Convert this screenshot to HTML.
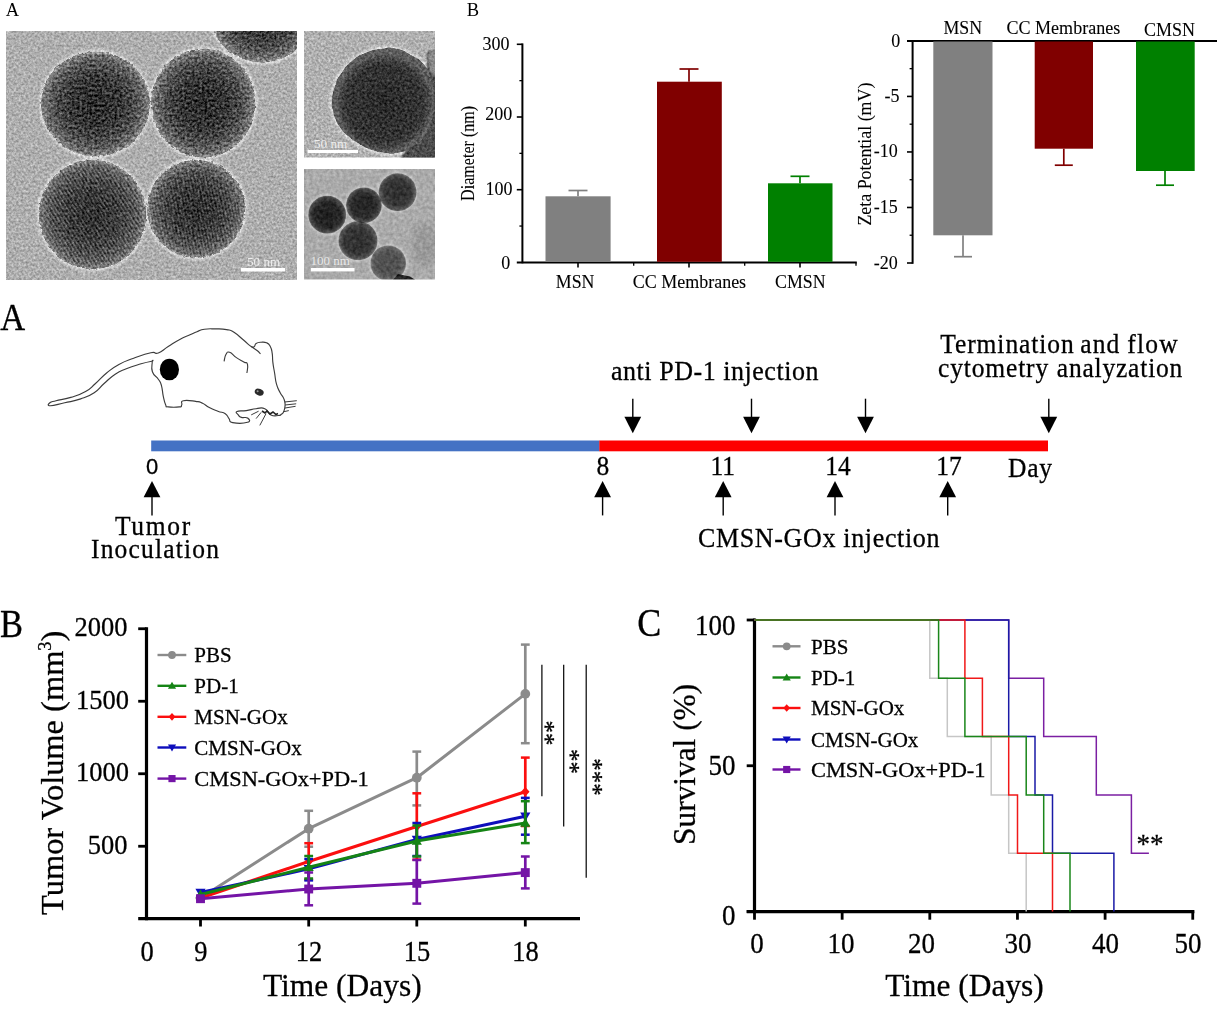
<!DOCTYPE html>
<html lang="en"><head><meta charset="utf-8"><title>Figure</title>
<style>html,body{margin:0;padding:0;background:#fff;}svg{display:block}text{white-space:pre}g.soft text{stroke:#000;stroke-width:0.28px}g.soft g.thin text{stroke-width:0.1px}</style></head>
<body><svg width="1217" height="1014" viewBox="0 0 1217 1014">
<rect width="1217" height="1014" fill="#fff"/>
<defs>
<filter id="texBg" color-interpolation-filters="sRGB" x="-5%" y="-5%" width="110%" height="110%">
<feTurbulence type="fractalNoise" baseFrequency="0.42" numOctaves="2" seed="7" result="n"/>
<feColorMatrix in="n" type="matrix" values="1 0 0 0 0  1 0 0 0 0  1 0 0 0 0  0 0 0 0 1" result="g"/>
<feComposite in="SourceGraphic" in2="g" operator="arithmetic" k1="0" k2="1" k3="0.45" k4="-0.225" result="m"/>
<feComposite in="m" in2="SourceGraphic" operator="in"/>
</filter>
<filter id="texSp" color-interpolation-filters="sRGB" x="-5%" y="-5%" width="110%" height="110%">
<feTurbulence type="fractalNoise" baseFrequency="0.35" numOctaves="1" seed="16" result="dn"/><feDisplacementMap in="SourceGraphic" in2="dn" scale="4" xChannelSelector="R" yChannelSelector="G" result="ds"/><feTurbulence type="fractalNoise" baseFrequency="0.4" numOctaves="2" seed="11" result="n"/>
<feColorMatrix in="n" type="matrix" values="1 0 0 0 0  1 0 0 0 0  1 0 0 0 0  0 0 0 0 1" result="g"/>
<feComposite in="ds" in2="g" operator="arithmetic" k1="0" k2="1" k3="0.75" k4="-0.375" result="m"/>
<feComposite in="m" in2="ds" operator="in"/>
</filter>
<filter id="texSp2" color-interpolation-filters="sRGB" x="-5%" y="-5%" width="110%" height="110%">
<feTurbulence type="fractalNoise" baseFrequency="0.35" numOctaves="1" seed="26" result="dn"/><feDisplacementMap in="SourceGraphic" in2="dn" scale="2" xChannelSelector="R" yChannelSelector="G" result="ds"/><feTurbulence type="fractalNoise" baseFrequency="0.4" numOctaves="2" seed="21" result="n"/>
<feColorMatrix in="n" type="matrix" values="1 0 0 0 0  1 0 0 0 0  1 0 0 0 0  0 0 0 0 1" result="g"/>
<feComposite in="ds" in2="g" operator="arithmetic" k1="0" k2="1" k3="0.45" k4="-0.225" result="m"/>
<feComposite in="m" in2="ds" operator="in"/>
</filter>
<filter id="texBg3" color-interpolation-filters="sRGB" x="-5%" y="-5%" width="110%" height="110%">
<feTurbulence type="fractalNoise" baseFrequency="0.3" numOctaves="2" seed="31" result="n"/>
<feColorMatrix in="n" type="matrix" values="1 0 0 0 0  1 0 0 0 0  1 0 0 0 0  0 0 0 0 1" result="g"/>
<feComposite in="SourceGraphic" in2="g" operator="arithmetic" k1="0" k2="1" k3="0.25" k4="-0.125" result="m"/>
<feComposite in="m" in2="SourceGraphic" operator="in"/>
</filter>
<filter id="blur1"><feGaussianBlur stdDeviation="1.1"/></filter>
<filter id="blur2"><feGaussianBlur stdDeviation="2.5"/></filter>
<filter id="blur05"><feGaussianBlur stdDeviation="0.6"/></filter>
<radialGradient id="sph" cx="50%" cy="50%" r="50%">
  <stop offset="0" stop-color="#2a2a2a"/><stop offset="0.45" stop-color="#363636"/><stop offset="0.7" stop-color="#4a4a4a"/><stop offset="0.85" stop-color="#606060"/><stop offset="0.95" stop-color="#787878"/><stop offset="1" stop-color="#8a8a8a"/>
</radialGradient>
<radialGradient id="sph2" cx="50%" cy="50%" r="50%">
  <stop offset="0" stop-color="#2a2a2a"/><stop offset="0.8" stop-color="#343434"/><stop offset="0.95" stop-color="#464646"/><stop offset="1" stop-color="#565656"/>
</radialGradient>
<radialGradient id="sphA" cx="50%" cy="50%" r="50%">
  <stop offset="0" stop-color="#000" stop-opacity="0.85"/><stop offset="0.7" stop-color="#000" stop-opacity="0.80"/><stop offset="0.92" stop-color="#000" stop-opacity="0.65"/><stop offset="1" stop-color="#000" stop-opacity="0.47"/>
</radialGradient>
<radialGradient id="sph3" cx="50%" cy="50%" r="50%">
  <stop offset="0" stop-color="#2e2e2e"/><stop offset="0.7" stop-color="#3c3c3c"/><stop offset="0.92" stop-color="#585858"/><stop offset="1" stop-color="#6c6c6c"/>
</radialGradient>
<pattern id="fr1" width="3.3" height="3.3" patternUnits="userSpaceOnUse" patternTransform="rotate(58)"><rect width="3.3" height="3.3" fill="#0c0c0c"/><rect width="3.3" height="1.4" fill="#c4c4c4"/></pattern>
<pattern id="fr2" width="3.1" height="3.1" patternUnits="userSpaceOnUse" patternTransform="rotate(78)"><rect width="3.1" height="3.1" fill="#0c0c0c"/><rect width="3.1" height="1.3" fill="#c4c4c4"/></pattern>
<filter id="soft" filterUnits="userSpaceOnUse" x="0" y="0" width="1217" height="1014" color-interpolation-filters="sRGB"><feGaussianBlur stdDeviation="0.35"/></filter>
<radialGradient id="frfade" cx="50%" cy="50%" r="50%"><stop offset="0" stop-color="#fff" stop-opacity="0.55"/><stop offset="0.75" stop-color="#fff" stop-opacity="1"/><stop offset="1" stop-color="#fff" stop-opacity="0.7"/></radialGradient>
<mask id="mBL"><ellipse cx="92.5" cy="214.5" rx="52" ry="53" fill="url(#frfade)"/></mask>
<mask id="mBR"><ellipse cx="196.2" cy="214" rx="46" ry="42" fill="url(#frfade)"/></mask>
<clipPath id="cA1"><rect x="6" y="31" width="291" height="248.6"/></clipPath>
<clipPath id="cA2"><rect x="304" y="31" width="131" height="126.6"/></clipPath>
<clipPath id="cA3"><rect x="304" y="169" width="131" height="110.6"/></clipPath>
</defs>
<g filter="url(#soft)">
<text x="5.7" y="15.8" font-size="18.5" text-anchor="start" fill="#000" font-family="Liberation Serif, serif" >A</text>
</g>
<g clip-path="url(#cA1)">
<g filter="url(#texBg)">
<rect x="0" y="25" width="305" height="262" fill="#aeaeae" />
<ellipse cx="95.5" cy="104" rx="56.5" ry="54.5" fill="#d8d8d8" filter="url(#blur1)"/>
<ellipse cx="203.2" cy="103.2" rx="54.2" ry="56.400000000000006" fill="#d8d8d8" filter="url(#blur1)"/>
<ellipse cx="92.5" cy="214.5" rx="55.7" ry="56.7" fill="#d8d8d8" filter="url(#blur1)"/>
<ellipse cx="196.2" cy="208.8" rx="51.0" ry="51.0" fill="#d8d8d8" filter="url(#blur1)"/>
<ellipse cx="262" cy="9.4" rx="55.2" ry="55.2" fill="#d8d8d8" filter="url(#blur1)"/>
</g>
<g filter="url(#texSp)">
<ellipse cx="95.5" cy="104" rx="54.3" ry="52.3" fill="url(#sph)"/>
<ellipse cx="203.2" cy="103.2" rx="52" ry="54.2" fill="url(#sph)"/>
<ellipse cx="92.5" cy="214.5" rx="53.5" ry="54.5" fill="url(#sph)"/>
<ellipse cx="196.2" cy="208.8" rx="48.8" ry="48.8" fill="url(#sph)"/>
<ellipse cx="262" cy="9.4" rx="53" ry="53" fill="url(#sph)"/>
</g>
<rect x="35" y="155" width="115" height="120" fill="url(#fr1)" mask="url(#mBL)" opacity="0.26" filter="url(#blur05)"/>
<rect x="145" y="165" width="105" height="95" fill="url(#fr2)" mask="url(#mBR)" opacity="0.18" filter="url(#blur05)"/>
<rect x="241" y="268" width="44" height="3.5" fill="#fff" />
<text x="247" y="265.6" font-size="13.2" text-anchor="start" fill="#eee" font-family="Liberation Serif, serif" >50 nm</text>
</g>
<g clip-path="url(#cA2)">
<g filter="url(#texBg)">
<rect x="298" y="25" width="143" height="139" fill="#b0b0b0" />
<path d="M331.8,102.3 C332.4,94.9 332.1,94.7 335.0,86.0 C337.9,77.3 336.3,80.8 341.4,73.3 C346.5,65.8 344.5,67.2 352.0,61.0 C359.5,54.8 357.6,56.2 366.3,52.6 C375.0,49.0 372.3,50.2 381.0,49.0 C389.7,47.8 386.3,46.7 395.3,48.5 C404.3,50.3 402.3,50.0 411.0,55.0 C419.7,60.0 418.3,57.5 424.3,65.0 C430.3,72.5 428.1,69.5 431.0,80.0 C433.9,90.5 433.7,88.0 434.0,100.0 C434.3,112.0 435.0,108.9 432.0,120.0 C429.0,131.1 430.6,128.6 424.0,137.0 C417.4,145.4 418.1,143.2 410.0,148.0 C401.9,152.8 404.7,151.6 397.0,153.0 C389.3,154.4 392.0,153.8 384.2,152.7 C376.4,151.6 378.4,152.2 371.0,149.5 C363.6,146.8 366.3,147.8 359.4,143.7 C352.5,139.6 353.8,140.9 348.0,136.0 C342.2,131.1 343.9,132.6 340.0,127.2 C336.1,121.8 337.1,123.0 335.0,118.0 C332.9,113.0 334.1,115.3 333.1,110.6 C332.1,105.9 331.2,109.7 331.8,102.3 Z" fill="none" stroke="#d8d8d8" stroke-width="4.5" filter="url(#blur1)"/>
</g>
<g filter="url(#texSp2)">
<path d="M428,52 C433,55 437,58 440,60 L440,165 L395,165 C410,150 420,120 425,95 Z" fill="#4c4c4c" filter="url(#blur1)"/>
<path d="M427,52 L440,48 L440,80 L430,72 Z" fill="#8a8a8a" filter="url(#blur1)"/>
<path d="M331.8,102.3 C332.4,94.9 332.1,94.7 335.0,86.0 C337.9,77.3 336.3,80.8 341.4,73.3 C346.5,65.8 344.5,67.2 352.0,61.0 C359.5,54.8 357.6,56.2 366.3,52.6 C375.0,49.0 372.3,50.2 381.0,49.0 C389.7,47.8 386.3,46.7 395.3,48.5 C404.3,50.3 402.3,50.0 411.0,55.0 C419.7,60.0 418.3,57.5 424.3,65.0 C430.3,72.5 428.1,69.5 431.0,80.0 C433.9,90.5 433.7,88.0 434.0,100.0 C434.3,112.0 435.0,108.9 432.0,120.0 C429.0,131.1 430.6,128.6 424.0,137.0 C417.4,145.4 418.1,143.2 410.0,148.0 C401.9,152.8 404.7,151.6 397.0,153.0 C389.3,154.4 392.0,153.8 384.2,152.7 C376.4,151.6 378.4,152.2 371.0,149.5 C363.6,146.8 366.3,147.8 359.4,143.7 C352.5,139.6 353.8,140.9 348.0,136.0 C342.2,131.1 343.9,132.6 340.0,127.2 C336.1,121.8 337.1,123.0 335.0,118.0 C332.9,113.0 334.1,115.3 333.1,110.6 C332.1,105.9 331.2,109.7 331.8,102.3 Z" fill="#5e5e5e"/>
<ellipse cx="384.5" cy="103" rx="47" ry="47.5" fill="url(#sph2)" filter="url(#blur1)"/>
</g>
<rect x="307.6" y="150" width="50.4" height="3.1" fill="#fff" />
<text x="314" y="147.6" font-size="13.2" text-anchor="start" fill="#eee" font-family="Liberation Serif, serif" >50 nm</text>
</g>
<g clip-path="url(#cA3)">
<g filter="url(#texBg3)">
<rect x="298" y="163" width="143" height="123" fill="#aaaaaa" />
<ellipse cx="424" cy="245" rx="12" ry="22" fill="#9a9a9a" filter="url(#blur2)"/>
<circle cx="388.2" cy="263.2" r="19.3" fill="#cfcfcf" opacity="0.8" filter="url(#blur1)"/>
<circle cx="397.6" cy="192.2" r="20.4" fill="#cfcfcf" opacity="0.8" filter="url(#blur1)"/>
<circle cx="327.2" cy="214.7" r="20.4" fill="#cfcfcf" opacity="0.8" filter="url(#blur1)"/>
<circle cx="358" cy="240.7" r="21.0" fill="#cfcfcf" opacity="0.8" filter="url(#blur1)"/>
<circle cx="363.9" cy="205.2" r="19.3" fill="#cfcfcf" opacity="0.8" filter="url(#blur1)"/>
<circle cx="388.2" cy="263.2" r="17.8" fill="url(#sphA)" opacity="0.72" filter="url(#blur05)"/>
<circle cx="397.6" cy="192.2" r="18.9" fill="url(#sphA)" opacity="0.9" filter="url(#blur05)"/>
<circle cx="327.2" cy="214.7" r="18.9" fill="url(#sphA)" opacity="1.0" filter="url(#blur05)"/>
<circle cx="358" cy="240.7" r="19.5" fill="url(#sphA)" opacity="0.9" filter="url(#blur05)"/>
<circle cx="363.9" cy="205.2" r="17.8" fill="url(#sphA)" opacity="0.97" filter="url(#blur05)"/>
<path d="M398,274 L410,276.5 L417,281 L392,281 Z" fill="#222" filter="url(#blur05)"/>
</g>
<rect x="310.9" y="268" width="43.6" height="3.4" fill="#fff" />
<text x="310.5" y="264.8" font-size="13" text-anchor="start" fill="#e8e8e8" font-family="Liberation Serif, serif" >100 nm</text>
</g>
<g class="soft" filter="url(#soft)">
<g class="thin">
<text x="466.8" y="15.8" font-size="18.5" text-anchor="start" fill="#000" font-family="Liberation Serif, serif" style="stroke:none">B</text>
<line x1="522.4" y1="43.4" x2="522.4" y2="263.3" stroke="#000" stroke-width="2" />
<line x1="516.8" y1="262.4" x2="856.8" y2="262.4" stroke="#000" stroke-width="2" />
<line x1="516.8" y1="189.7" x2="522.4" y2="189.7" stroke="#000" stroke-width="1.6" />
<line x1="516.8" y1="116.99999999999997" x2="522.4" y2="116.99999999999997" stroke="#000" stroke-width="1.6" />
<line x1="516.8" y1="44.29999999999998" x2="522.4" y2="44.29999999999998" stroke="#000" stroke-width="1.6" />
<text x="509.4" y="49.800000000000004" font-size="18" text-anchor="end" fill="#000" font-family="Liberation Serif, serif" >300</text>
<text x="512.2" y="120.39999999999999" font-size="18" text-anchor="end" fill="#000" font-family="Liberation Serif, serif" >200</text>
<text x="512.5" y="194.6" font-size="18" text-anchor="end" fill="#000" font-family="Liberation Serif, serif" >100</text>
<text x="510.2" y="269.20000000000005" font-size="18" text-anchor="end" fill="#000" font-family="Liberation Serif, serif" >0</text>
<line x1="519.4" y1="226.04999999999998" x2="522.4" y2="226.04999999999998" stroke="#000" stroke-width="1.3" />
<line x1="519.4" y1="153.34999999999997" x2="522.4" y2="153.34999999999997" stroke="#000" stroke-width="1.3" />
<line x1="519.4" y1="80.64999999999998" x2="522.4" y2="80.64999999999998" stroke="#000" stroke-width="1.3" />
<line x1="578" y1="262.4" x2="578" y2="267.6" stroke="#000" stroke-width="1.6" />
<line x1="689" y1="262.4" x2="689" y2="267.6" stroke="#000" stroke-width="1.6" />
<line x1="800" y1="262.4" x2="800" y2="267.6" stroke="#000" stroke-width="1.6" />
<line x1="633.7" y1="262.4" x2="633.7" y2="265.8" stroke="#000" stroke-width="1.3" />
<line x1="744.7" y1="262.4" x2="744.7" y2="265.8" stroke="#000" stroke-width="1.3" />
<line x1="856" y1="262.4" x2="856" y2="265.8" stroke="#000" stroke-width="1.3" />
<rect x="545.5" y="196.3" width="65.10000000000002" height="65.5" fill="#808080" />
<line x1="578" y1="196.3" x2="578" y2="190.5" stroke="#808080" stroke-width="1.7" />
<line x1="568.5" y1="190.5" x2="587.5" y2="190.5" stroke="#808080" stroke-width="1.7" />
<rect x="657" y="81.7" width="64.79999999999995" height="180.10000000000002" fill="#800000" />
<line x1="689" y1="81.7" x2="689" y2="69" stroke="#800000" stroke-width="1.7" />
<line x1="679.5" y1="69" x2="698.5" y2="69" stroke="#800000" stroke-width="1.7" />
<rect x="768" y="183.3" width="64.5" height="78.5" fill="#008000" />
<line x1="800" y1="183.3" x2="800" y2="176.3" stroke="#008000" stroke-width="1.7" />
<line x1="790.5" y1="176.3" x2="809.5" y2="176.3" stroke="#008000" stroke-width="1.7" />
<text x="555.8" y="288" font-size="18" font-family="Liberation Serif, serif" textLength="38.6" lengthAdjust="spacingAndGlyphs">MSN</text>
<text x="632.8" y="288" font-size="18" font-family="Liberation Serif, serif" textLength="113.3" lengthAdjust="spacingAndGlyphs">CC Membranes</text>
<text x="775" y="288" font-size="18" font-family="Liberation Serif, serif" textLength="50.5" lengthAdjust="spacingAndGlyphs">CMSN</text>
<text transform="translate(473.9,200.9) rotate(-90)" font-size="18" font-family="Liberation Serif, serif" textLength="95" lengthAdjust="spacingAndGlyphs">Diameter (nm)</text>
<line x1="912.6" y1="40" x2="912.6" y2="263.8" stroke="#000" stroke-width="2" />
<line x1="907" y1="40.9" x2="1217" y2="40.9" stroke="#000" stroke-width="2" />
<line x1="907" y1="96.42500000000001" x2="912.6" y2="96.42500000000001" stroke="#000" stroke-width="1.6" />
<line x1="907" y1="151.95000000000002" x2="912.6" y2="151.95000000000002" stroke="#000" stroke-width="1.6" />
<line x1="907" y1="207.47500000000002" x2="912.6" y2="207.47500000000002" stroke="#000" stroke-width="1.6" />
<line x1="907" y1="263.0" x2="912.6" y2="263.0" stroke="#000" stroke-width="1.6" />
<text x="900.2" y="46.9" font-size="18" text-anchor="end" fill="#000" font-family="Liberation Serif, serif" >0</text>
<text x="899.5" y="102.39999999999999" font-size="18" text-anchor="end" fill="#000" font-family="Liberation Serif, serif" >-5</text>
<text x="897.8" y="156.79999999999998" font-size="18" text-anchor="end" fill="#000" font-family="Liberation Serif, serif" >-10</text>
<text x="897.8" y="213.4" font-size="18" text-anchor="end" fill="#000" font-family="Liberation Serif, serif" >-15</text>
<text x="897.8" y="268.70000000000005" font-size="18" text-anchor="end" fill="#000" font-family="Liberation Serif, serif" >-20</text>
<line x1="909.6" y1="68.6625" x2="912.6" y2="68.6625" stroke="#000" stroke-width="1.3" />
<line x1="909.6" y1="124.1875" x2="912.6" y2="124.1875" stroke="#000" stroke-width="1.3" />
<line x1="909.6" y1="179.7125" x2="912.6" y2="179.7125" stroke="#000" stroke-width="1.3" />
<line x1="909.6" y1="235.2375" x2="912.6" y2="235.2375" stroke="#000" stroke-width="1.3" />
<rect x="933.3" y="41.5" width="59.200000000000045" height="193.8" fill="#808080" />
<line x1="963" y1="235.3" x2="963" y2="256.7" stroke="#808080" stroke-width="1.7" />
<line x1="954" y1="256.7" x2="972" y2="256.7" stroke="#808080" stroke-width="1.7" />
<rect x="1034.7" y="41.5" width="58.299999999999955" height="107.19999999999999" fill="#800000" />
<line x1="1063.8" y1="148.7" x2="1063.8" y2="165.2" stroke="#800000" stroke-width="1.7" />
<line x1="1054.8" y1="165.2" x2="1072.8" y2="165.2" stroke="#800000" stroke-width="1.7" />
<rect x="1136" y="41.5" width="58.700000000000045" height="129.5" fill="#008000" />
<line x1="1165" y1="171" x2="1165" y2="185.2" stroke="#008000" stroke-width="1.7" />
<line x1="1156" y1="185.2" x2="1174" y2="185.2" stroke="#008000" stroke-width="1.7" />
<text x="943.4" y="34.2" font-size="18" font-family="Liberation Serif, serif" textLength="38.6" lengthAdjust="spacingAndGlyphs">MSN</text>
<text x="1006.5" y="34.2" font-size="18" font-family="Liberation Serif, serif" textLength="113.7" lengthAdjust="spacingAndGlyphs">CC Membranes</text>
<text x="1144" y="36.2" font-size="18" font-family="Liberation Serif, serif" textLength="51" lengthAdjust="spacingAndGlyphs">CMSN</text>
<text transform="translate(870.6,225.6) rotate(-90)" font-size="18" font-family="Liberation Serif, serif" textLength="143" lengthAdjust="spacingAndGlyphs">Zeta Potential (mV)</text>
</g>
<text transform="translate(0.3,330) scale(1,1.13)" font-size="34.5" text-anchor="start" font-family="Liberation Serif, serif"  >A</text>
<path d="M49.9,402.8 C51.4,401.5 50.4,402.1 56.0,400.7 C61.6,399.3 62.9,399.9 70.8,397.4 C78.7,394.9 79.0,395.2 85.6,391.5 C92.2,387.8 89.9,388.4 95.5,383.5 C101.1,378.6 100.4,378.1 106.6,373.0 C112.8,367.9 111.7,368.3 118.9,364.4 C126.1,360.5 125.2,361.3 133.7,358.2 C142.2,355.1 144.3,354.1 150.9,352.7 C157.5,351.3 153.7,354.7 158.3,353.0 C162.9,351.3 162.6,350.0 168.2,346.5 C173.8,343.0 173.5,342.8 179.3,339.7 C185.1,336.6 185.3,336.9 190.0,334.8 C194.7,332.7 193.2,333.2 197.0,331.7 C200.8,330.2 199.5,329.9 204.4,329.2 C209.3,328.5 209.6,328.8 215.5,328.9 C221.4,329.0 221.7,328.7 226.6,329.6 C231.5,330.5 229.4,329.4 234.0,332.3 C238.6,335.2 239.2,336.5 243.8,340.3 C248.4,344.1 248.4,344.8 251.2,346.5 C254.0,348.2 253.0,347.3 254.3,346.5 C255.6,345.7 254.3,344.5 256.1,343.4 C257.9,342.3 258.3,342.4 261.1,342.2 C263.9,342.0 264.1,341.7 266.6,342.8 C269.1,343.9 268.8,343.7 270.3,346.5 C271.8,349.3 271.5,349.2 272.2,353.3 C272.9,357.4 272.2,356.6 272.8,361.9 C273.4,367.2 273.6,367.1 274.6,373.0 C275.6,378.9 275.0,378.8 276.5,384.1 C278.0,389.4 278.2,388.8 280.2,392.7 C282.2,396.6 282.6,395.6 283.9,398.9 C285.2,402.2 285.1,401.7 285.1,405.0 C285.1,408.3 284.9,408.7 283.9,411.2 C282.9,413.7 282.9,413.2 281.4,414.3 C279.9,415.4 281.1,415.3 278.3,415.5 C275.5,415.7 274.5,416.7 270.9,414.9 C267.3,413.1 268.7,410.4 264.8,408.7 C260.9,407.0 261.0,408.2 256.1,408.7 C251.2,409.2 251.4,409.9 246.3,410.6 C241.2,411.3 239.1,410.4 237.0,411.5 C234.9,412.6 237.1,413.3 238.3,414.9 C239.5,416.5 238.9,416.6 241.4,417.4 C243.9,418.2 245.9,416.7 247.5,418.0 C249.1,419.3 251.4,421.1 247.5,422.3 C243.6,423.5 237.6,423.6 232.7,422.6 C227.8,421.6 231.0,421.0 229.0,418.6 C227.0,416.2 228.3,415.7 225.3,413.7 C222.3,411.7 222.2,412.9 217.9,411.2 C213.6,409.5 213.4,409.6 209.3,407.5 C205.2,405.4 206.1,404.8 202.5,403.2 C198.9,401.6 200.8,402.1 195.7,401.4 C190.6,400.7 187.1,399.7 183.4,400.7 C179.7,401.7 182.8,403.3 181.7,405.0 C180.6,406.7 182.9,406.4 179.3,406.9 C175.7,407.4 171.8,407.4 168.2,406.9 C164.6,406.4 167.0,407.8 165.7,405.0 C164.4,402.2 164.4,401.7 163.3,396.4 C162.2,391.1 162.7,389.9 161.4,385.3 C160.1,380.7 160.7,382.8 158.3,379.2 C155.9,375.6 154.0,376.4 152.4,371.8 C150.8,367.2 152.4,364.7 152.2,361.9 C152.0,359.1 154.5,360.8 151.5,361.3 C148.5,361.8 147.8,361.8 141.1,363.8 C134.4,365.8 133.2,365.9 126.3,368.7 C119.4,371.5 121.1,370.3 115.2,374.2 C109.3,378.1 109.7,378.6 104.1,383.5 C98.5,388.4 100.4,388.6 94.2,392.7 C88.0,396.8 88.6,396.2 80.7,398.9 C72.8,401.6 72.8,401.0 64.7,402.8 C56.6,404.6 54.4,405.7 50.5,405.7 C46.6,405.7 48.4,404.1 49.9,402.8 Z" fill="#fff" stroke="#3c3c3c" stroke-width="1.15" stroke-linejoin="round"/>
<path d="M251.2,346.5 C252.2,347.2 255.8,349.6 257.4,350.8 C258.9,352.0 260.0,353.4 260.5,353.9" fill="none" stroke="#3c3c3c" stroke-width="1.1"/>
<path d="M224.1,361.3 C224.6,359.5 224.4,356.9 225.9,354.5 C227.4,352.1 226.8,351.5 229.6,352.3 C232.4,353.1 232.6,355.0 236.4,357.6 C240.2,360.2 240.8,360.1 243.8,361.9 C246.8,363.7 246.7,361.4 247.5,364.4 C248.3,367.4 247.1,370.7 246.9,373.0" fill="none" stroke="#3c3c3c" stroke-width="1.15"/>
<ellipse cx="259.2" cy="392.1" rx="4.6" ry="3.3" fill="#2a2a2a" transform="rotate(20 259.2 392.1)"/>
<circle cx="257.6" cy="391.2" r="1" fill="#999"/>
<line x1="284.5" y1="402" x2="296.8" y2="400.7" stroke="#3c3c3c" stroke-width="1" />
<line x1="285.1" y1="405" x2="296.2" y2="403.8" stroke="#3c3c3c" stroke-width="1" />
<line x1="284.5" y1="408.1" x2="295.6" y2="406.3" stroke="#3c3c3c" stroke-width="1" />
<line x1="283.3" y1="411.8" x2="288.8" y2="410.6" stroke="#3c3c3c" stroke-width="1" />
<line x1="266" y1="413.7" x2="259.8" y2="425.4" stroke="#3c3c3c" stroke-width="1" />
<line x1="261.1" y1="412.4" x2="256.1" y2="418.6" stroke="#3c3c3c" stroke-width="1" />
<line x1="258.6" y1="411.2" x2="251.2" y2="414.9" stroke="#3c3c3c" stroke-width="1" />
<path d="M262,411 l3,2 l2,-2 l3,3 l3,-2 l3,2.5 l2,-1" fill="none" stroke="#222" stroke-width="1.6"/>
<ellipse cx="169.4" cy="369.5" rx="9.6" ry="10.8" fill="#000"/>
<rect x="151.2" y="440.5" width="448.3" height="10.8" fill="#4472C4" />
<rect x="599.3" y="440.5" width="448.7" height="10.8" fill="#FE0000" />
<text transform="translate(152.2,474.4) scale(1,1.0)" font-size="22" text-anchor="middle" font-family="Liberation Sans, sans-serif"  >0</text>
<text transform="translate(602.8,474.9) scale(1,1.09)" font-size="25.5" text-anchor="middle" font-family="Liberation Serif, serif"  >8</text>
<text transform="translate(722.7,474.9) scale(1,1.09)" font-size="25.5" text-anchor="middle" font-family="Liberation Serif, serif"  >11</text>
<text transform="translate(838,474.9) scale(1,1.09)" font-size="25.5" text-anchor="middle" font-family="Liberation Serif, serif"  >14</text>
<text transform="translate(949,474.9) scale(1,1.09)" font-size="25.5" text-anchor="middle" font-family="Liberation Serif, serif"  >17</text>
<text transform="translate(1008,476.9) scale(1,1.1)" font-size="25.5" text-anchor="start" font-family="Liberation Serif, serif" textLength="44" lengthAdjust="spacing" >Day</text>
<path d="M152,480.9 L143.6,497.3 L160.4,497.3 Z" fill="#000"/>
<line x1="152" y1="496.3" x2="152" y2="515.4" stroke="#000" stroke-width="1.4" />
<path d="M602.6,480.9 L594.2,497.3 L611.0,497.3 Z" fill="#000"/>
<line x1="602.6" y1="496.3" x2="602.6" y2="515.4" stroke="#000" stroke-width="1.4" />
<path d="M723.2,480.9 L714.8000000000001,497.3 L731.6,497.3 Z" fill="#000"/>
<line x1="723.2" y1="496.3" x2="723.2" y2="515.4" stroke="#000" stroke-width="1.4" />
<path d="M835,480.9 L826.6,497.3 L843.4,497.3 Z" fill="#000"/>
<line x1="835" y1="496.3" x2="835" y2="515.4" stroke="#000" stroke-width="1.4" />
<path d="M947.7,480.9 L939.3000000000001,497.3 L956.1,497.3 Z" fill="#000"/>
<line x1="947.7" y1="496.3" x2="947.7" y2="515.4" stroke="#000" stroke-width="1.4" />
<path d="M632.8,433.3 L624.4,416.7 L641.1999999999999,416.7 Z" fill="#000"/>
<line x1="632.8" y1="398.7" x2="632.8" y2="417.7" stroke="#000" stroke-width="1.4" />
<path d="M751.5,433.3 L743.1,416.7 L759.9,416.7 Z" fill="#000"/>
<line x1="751.5" y1="398.7" x2="751.5" y2="417.7" stroke="#000" stroke-width="1.4" />
<path d="M865.5,433.3 L857.1,416.7 L873.9,416.7 Z" fill="#000"/>
<line x1="865.5" y1="398.7" x2="865.5" y2="417.7" stroke="#000" stroke-width="1.4" />
<path d="M1048.8,433.3 L1040.3999999999999,416.7 L1057.2,416.7 Z" fill="#000"/>
<line x1="1048.8" y1="398.7" x2="1048.8" y2="417.7" stroke="#000" stroke-width="1.4" />
<text transform="translate(611,380.2) scale(1,1.055)" font-size="26" text-anchor="start" font-family="Liberation Serif, serif" textLength="207.5" lengthAdjust="spacing" >anti PD-1 injection</text>
<text transform="translate(0,352.8) scale(1,1.113)" font-size="25.5" font-family="Liberation Serif, serif"><tspan x="940.2" y="0" textLength="133.6" lengthAdjust="spacing">Termination</tspan> <tspan x="1080.3" y="0" textLength="38.9" lengthAdjust="spacing">and</tspan> <tspan x="1127.2" y="0" textLength="50.4" lengthAdjust="spacing">flow</tspan></text>
<text transform="translate(0,377.3) scale(1,1.113)" font-size="25.5" font-family="Liberation Serif, serif"><tspan x="938" y="0" textLength="110.2" lengthAdjust="spacing">cytometry</tspan> <tspan x="1056.8" y="0" textLength="125.5" lengthAdjust="spacing">analyzation</tspan></text>
<text transform="translate(698,546.6) scale(1,1.065)" font-size="26" text-anchor="start" font-family="Liberation Serif, serif" textLength="241.5" lengthAdjust="spacing" >CMSN-GOx injection</text>
<text transform="translate(115,535.2) scale(1,1.065)" font-size="25.5" text-anchor="start" font-family="Liberation Serif, serif" textLength="75.2" lengthAdjust="spacing" >Tumor</text>
<text transform="translate(91,557.6) scale(1,1.08)" font-size="25.5" text-anchor="start" font-family="Liberation Serif, serif" textLength="128" lengthAdjust="spacing" >Inoculation</text>
<text transform="translate(0,636.7) scale(1,1.135)" font-size="34.5" text-anchor="start" font-family="Liberation Serif, serif"  >B</text>
<line x1="146.5" y1="627.2" x2="146.5" y2="920.3" stroke="#000" stroke-width="3.2" />
<line x1="138.2" y1="918.7" x2="580" y2="918.7" stroke="#000" stroke-width="3.2" />
<line x1="138.2" y1="846.25" x2="146.5" y2="846.25" stroke="#000" stroke-width="2.8" />
<text x="127.4" y="853.85" font-size="26.5" text-anchor="end" fill="#000" font-family="Liberation Serif, serif" >500</text>
<line x1="138.2" y1="773.75" x2="146.5" y2="773.75" stroke="#000" stroke-width="2.8" />
<text x="128.9" y="781.35" font-size="26.5" text-anchor="end" fill="#000" font-family="Liberation Serif, serif" >1000</text>
<line x1="138.2" y1="701.25" x2="146.5" y2="701.25" stroke="#000" stroke-width="2.8" />
<text x="128.9" y="708.85" font-size="26.5" text-anchor="end" fill="#000" font-family="Liberation Serif, serif" >1500</text>
<line x1="138.2" y1="628.75" x2="146.5" y2="628.75" stroke="#000" stroke-width="2.8" />
<text x="127.4" y="636.35" font-size="26.5" text-anchor="end" fill="#000" font-family="Liberation Serif, serif" >2000</text>
<line x1="200.5" y1="918.7" x2="200.5" y2="926.5" stroke="#000" stroke-width="2.8" />
<text transform="translate(200.8,961.2) scale(1,1.12)" font-size="26.5" text-anchor="middle" font-family="Liberation Serif, serif"  >9</text>
<line x1="308.7" y1="918.7" x2="308.7" y2="926.5" stroke="#000" stroke-width="2.8" />
<text transform="translate(309.0,961.2) scale(1,1.12)" font-size="26.5" text-anchor="middle" font-family="Liberation Serif, serif"  >12</text>
<line x1="416.8" y1="918.7" x2="416.8" y2="926.5" stroke="#000" stroke-width="2.8" />
<text transform="translate(417.1,961.2) scale(1,1.12)" font-size="26.5" text-anchor="middle" font-family="Liberation Serif, serif"  >15</text>
<line x1="525.3" y1="918.7" x2="525.3" y2="926.5" stroke="#000" stroke-width="2.8" />
<text transform="translate(525.5999999999999,961.2) scale(1,1.12)" font-size="26.5" text-anchor="middle" font-family="Liberation Serif, serif"  >18</text>
<text transform="translate(147.2,961.2) scale(1,1.12)" font-size="26.5" text-anchor="middle" font-family="Liberation Serif, serif"  >0</text>
<text x="263" y="996.2" font-size="32.3" font-family="Liberation Serif, serif" textLength="158.6" lengthAdjust="spacingAndGlyphs">Time (Days)</text>
<text transform="translate(63.4,915) rotate(-90)" font-size="32" font-family="Liberation Serif, serif" textLength="284.3" lengthAdjust="spacingAndGlyphs">Tumor Volume (mm<tspan font-size="18" dy="-12">3</tspan><tspan dy="12">)</tspan></text>
<line x1="308.7" y1="810.8" x2="308.7" y2="846.7" stroke="#8b8b8b" stroke-width="2.7" />
<line x1="304.3" y1="810.8" x2="313.09999999999997" y2="810.8" stroke="#8b8b8b" stroke-width="2.5" />
<line x1="304.3" y1="846.7" x2="313.09999999999997" y2="846.7" stroke="#8b8b8b" stroke-width="2.5" />
<line x1="416.8" y1="751.6" x2="416.8" y2="805.4" stroke="#8b8b8b" stroke-width="2.7" />
<line x1="412.40000000000003" y1="751.6" x2="421.2" y2="751.6" stroke="#8b8b8b" stroke-width="2.5" />
<line x1="412.40000000000003" y1="805.4" x2="421.2" y2="805.4" stroke="#8b8b8b" stroke-width="2.5" />
<line x1="525.3" y1="644.6" x2="525.3" y2="743.2" stroke="#8b8b8b" stroke-width="2.7" />
<line x1="520.9" y1="644.6" x2="529.6999999999999" y2="644.6" stroke="#8b8b8b" stroke-width="2.5" />
<line x1="520.9" y1="743.2" x2="529.6999999999999" y2="743.2" stroke="#8b8b8b" stroke-width="2.5" />
<polyline points="200.5,898 308.7,828.7 416.8,777.7 525.3,693.9" fill="none" stroke="#8b8b8b" stroke-width="3" stroke-linejoin="round"/>
<circle cx="200.5" cy="898" r="4.8759999999999994" fill="#8b8b8b"/>
<circle cx="308.7" cy="828.7" r="4.8759999999999994" fill="#8b8b8b"/>
<circle cx="416.8" cy="777.7" r="4.8759999999999994" fill="#8b8b8b"/>
<circle cx="525.3" cy="693.9" r="4.8759999999999994" fill="#8b8b8b"/>
<line x1="308.7" y1="843.2" x2="308.7" y2="879.5" stroke="#fb0f0f" stroke-width="2.7" />
<line x1="304.3" y1="843.2" x2="313.09999999999997" y2="843.2" stroke="#fb0f0f" stroke-width="2.5" />
<line x1="304.3" y1="879.5" x2="313.09999999999997" y2="879.5" stroke="#fb0f0f" stroke-width="2.5" />
<line x1="416.8" y1="793.3" x2="416.8" y2="859.6" stroke="#fb0f0f" stroke-width="2.7" />
<line x1="412.40000000000003" y1="793.3" x2="421.2" y2="793.3" stroke="#fb0f0f" stroke-width="2.5" />
<line x1="412.40000000000003" y1="859.6" x2="421.2" y2="859.6" stroke="#fb0f0f" stroke-width="2.5" />
<line x1="525.3" y1="757.6" x2="525.3" y2="826" stroke="#fb0f0f" stroke-width="2.7" />
<line x1="520.9" y1="757.6" x2="529.6999999999999" y2="757.6" stroke="#fb0f0f" stroke-width="2.5" />
<line x1="520.9" y1="826" x2="529.6999999999999" y2="826" stroke="#fb0f0f" stroke-width="2.5" />
<polyline points="200.5,898 308.7,861.5 416.8,826.5 525.3,791.8" fill="none" stroke="#fb0f0f" stroke-width="3" stroke-linejoin="round"/>
<path d="M200.5,893.23 L204.74,898 L200.5,902.77 L196.26,898 Z" fill="#fb0f0f"/>
<path d="M308.7,856.73 L312.94,861.5 L308.7,866.27 L304.46,861.5 Z" fill="#fb0f0f"/>
<path d="M416.8,821.73 L421.04,826.5 L416.8,831.27 L412.56,826.5 Z" fill="#fb0f0f"/>
<path d="M525.3,787.03 L529.54,791.8 L525.3,796.5699999999999 L521.06,791.8 Z" fill="#fb0f0f"/>
<line x1="308.7" y1="859" x2="308.7" y2="880.4" stroke="#0e0ebc" stroke-width="2.7" />
<line x1="304.3" y1="859" x2="313.09999999999997" y2="859" stroke="#0e0ebc" stroke-width="2.5" />
<line x1="304.3" y1="880.4" x2="313.09999999999997" y2="880.4" stroke="#0e0ebc" stroke-width="2.5" />
<line x1="416.8" y1="823" x2="416.8" y2="856" stroke="#0e0ebc" stroke-width="2.7" />
<line x1="412.40000000000003" y1="823" x2="421.2" y2="823" stroke="#0e0ebc" stroke-width="2.5" />
<line x1="412.40000000000003" y1="856" x2="421.2" y2="856" stroke="#0e0ebc" stroke-width="2.5" />
<line x1="525.3" y1="797.9" x2="525.3" y2="834.7" stroke="#0e0ebc" stroke-width="2.7" />
<line x1="520.9" y1="797.9" x2="529.6999999999999" y2="797.9" stroke="#0e0ebc" stroke-width="2.5" />
<line x1="520.9" y1="834.7" x2="529.6999999999999" y2="834.7" stroke="#0e0ebc" stroke-width="2.5" />
<polyline points="200.5,892.5 308.7,868.9 416.8,839.5 525.3,816.3" fill="none" stroke="#0e0ebc" stroke-width="3" stroke-linejoin="round"/>
<path d="M200.5,897.588 L205.588,888.684 L195.412,888.684 Z" fill="#0e0ebc"/>
<path d="M308.7,873.9879999999999 L313.788,865.084 L303.61199999999997,865.084 Z" fill="#0e0ebc"/>
<path d="M416.8,844.588 L421.88800000000003,835.684 L411.712,835.684 Z" fill="#0e0ebc"/>
<path d="M525.3,821.3879999999999 L530.3879999999999,812.4839999999999 L520.212,812.4839999999999 Z" fill="#0e0ebc"/>
<line x1="308.7" y1="856" x2="308.7" y2="878.5" stroke="#158415" stroke-width="2.7" />
<line x1="304.3" y1="856" x2="313.09999999999997" y2="856" stroke="#158415" stroke-width="2.5" />
<line x1="304.3" y1="878.5" x2="313.09999999999997" y2="878.5" stroke="#158415" stroke-width="2.5" />
<line x1="416.8" y1="825.5" x2="416.8" y2="856.5" stroke="#158415" stroke-width="2.7" />
<line x1="412.40000000000003" y1="825.5" x2="421.2" y2="825.5" stroke="#158415" stroke-width="2.5" />
<line x1="412.40000000000003" y1="856.5" x2="421.2" y2="856.5" stroke="#158415" stroke-width="2.5" />
<line x1="525.3" y1="801.2" x2="525.3" y2="843.1" stroke="#158415" stroke-width="2.7" />
<line x1="520.9" y1="801.2" x2="529.6999999999999" y2="801.2" stroke="#158415" stroke-width="2.5" />
<line x1="520.9" y1="843.1" x2="529.6999999999999" y2="843.1" stroke="#158415" stroke-width="2.5" />
<polyline points="200.5,894.5 308.7,867.3 416.8,841 525.3,823" fill="none" stroke="#158415" stroke-width="3" stroke-linejoin="round"/>
<path d="M200.5,889.412 L205.588,898.316 L195.412,898.316 Z" fill="#158415"/>
<path d="M308.7,862.212 L313.788,871.116 L303.61199999999997,871.116 Z" fill="#158415"/>
<path d="M416.8,835.912 L421.88800000000003,844.816 L411.712,844.816 Z" fill="#158415"/>
<path d="M525.3,817.912 L530.3879999999999,826.816 L520.212,826.816 Z" fill="#158415"/>
<line x1="308.7" y1="872.5" x2="308.7" y2="905.3" stroke="#7414a6" stroke-width="2.7" />
<line x1="304.3" y1="872.5" x2="313.09999999999997" y2="872.5" stroke="#7414a6" stroke-width="2.5" />
<line x1="304.3" y1="905.3" x2="313.09999999999997" y2="905.3" stroke="#7414a6" stroke-width="2.5" />
<line x1="416.8" y1="860" x2="416.8" y2="903.6" stroke="#7414a6" stroke-width="2.7" />
<line x1="412.40000000000003" y1="860" x2="421.2" y2="860" stroke="#7414a6" stroke-width="2.5" />
<line x1="412.40000000000003" y1="903.6" x2="421.2" y2="903.6" stroke="#7414a6" stroke-width="2.5" />
<line x1="525.3" y1="856.5" x2="525.3" y2="888.4" stroke="#7414a6" stroke-width="2.7" />
<line x1="520.9" y1="856.5" x2="529.6999999999999" y2="856.5" stroke="#7414a6" stroke-width="2.5" />
<line x1="520.9" y1="888.4" x2="529.6999999999999" y2="888.4" stroke="#7414a6" stroke-width="2.5" />
<polyline points="200.5,898.7 308.7,889 416.8,883.3 525.3,872.6" fill="none" stroke="#7414a6" stroke-width="3" stroke-linejoin="round"/>
<rect x="196.048" y="894.248" width="8.904000000000002" height="8.904000000000002" fill="#7414a6"/>
<rect x="304.248" y="884.548" width="8.904000000000002" height="8.904000000000002" fill="#7414a6"/>
<rect x="412.348" y="878.848" width="8.904000000000002" height="8.904000000000002" fill="#7414a6"/>
<rect x="520.848" y="868.148" width="8.904000000000002" height="8.904000000000002" fill="#7414a6"/>
<line x1="157.5" y1="655" x2="186.3" y2="655" stroke="#8b8b8b" stroke-width="2.4" />
<circle cx="172" cy="655" r="3.9099999999999997" fill="#8b8b8b"/>
<text x="194.3" y="662.2" font-size="21" text-anchor="start" fill="#000" font-family="Liberation Serif, serif" >PBS</text>
<line x1="157.5" y1="685.8" x2="186.3" y2="685.8" stroke="#158415" stroke-width="2.4" />
<path d="M172,681.7199999999999 L176.08,688.8599999999999 L167.92,688.8599999999999 Z" fill="#158415"/>
<text x="194.3" y="693.0" font-size="21" text-anchor="start" fill="#000" font-family="Liberation Serif, serif" >PD-1</text>
<line x1="157.5" y1="716.8" x2="186.3" y2="716.8" stroke="#fb0f0f" stroke-width="2.4" />
<path d="M172,712.9749999999999 L175.4,716.8 L172,720.625 L168.6,716.8 Z" fill="#fb0f0f"/>
<text x="194.3" y="724.0" font-size="21" text-anchor="start" fill="#000" font-family="Liberation Serif, serif" >MSN-GOx</text>
<line x1="157.5" y1="747.5" x2="186.3" y2="747.5" stroke="#0e0ebc" stroke-width="2.4" />
<path d="M172,751.58 L176.08,744.44 L167.92,744.44 Z" fill="#0e0ebc"/>
<text x="194.3" y="754.7" font-size="21" text-anchor="start" fill="#000" font-family="Liberation Serif, serif" >CMSN-GOx</text>
<line x1="157.5" y1="778.6" x2="186.3" y2="778.6" stroke="#7414a6" stroke-width="2.4" />
<rect x="168.43" y="775.03" width="7.14" height="7.14" fill="#7414a6"/>
<text x="194.3" y="785.8000000000001" font-size="21" font-family="Liberation Serif, serif" textLength="174.5" lengthAdjust="spacingAndGlyphs">CMSN-GOx+PD-1</text>
<line x1="541.9" y1="664.7" x2="541.9" y2="796.2" stroke="#000" stroke-width="1.2" />
<line x1="563.7" y1="664.7" x2="563.7" y2="826.4" stroke="#000" stroke-width="1.2" />
<line x1="586.2" y1="664.7" x2="586.2" y2="877.7" stroke="#000" stroke-width="1.2" />
<text transform="translate(537.2,733) rotate(90)" font-size="25" text-anchor="middle" font-family="Liberation Serif, serif">**</text>
<text transform="translate(561.6,761.5) rotate(90)" font-size="25" text-anchor="middle" font-family="Liberation Serif, serif">**</text>
<text transform="translate(584.8,777) rotate(90)" font-size="25" text-anchor="middle" font-family="Liberation Serif, serif">***</text>
<text transform="translate(637.3,636.3) scale(1,1.115)" font-size="36" text-anchor="start" font-family="Liberation Serif, serif"  >C</text>
<line x1="754.5" y1="618.5" x2="754.5" y2="913.2" stroke="#000" stroke-width="3.2" />
<line x1="746.7" y1="911.6" x2="1194.4" y2="911.6" stroke="#000" stroke-width="3.2" />
<line x1="746.7" y1="911.5" x2="755" y2="911.5" stroke="#000" stroke-width="2.8" />
<line x1="746.7" y1="765.75" x2="755" y2="765.75" stroke="#000" stroke-width="2.8" />
<line x1="746.7" y1="620.0" x2="755" y2="620.0" stroke="#000" stroke-width="2.8" />
<text transform="translate(735.4,925.0) scale(1,1.1)" font-size="27" text-anchor="end" font-family="Liberation Serif, serif"  >0</text>
<text transform="translate(735.4,775.2) scale(1,1.1)" font-size="27" text-anchor="end" font-family="Liberation Serif, serif"  >50</text>
<text transform="translate(735.4,634.8000000000001) scale(1,1.1)" font-size="27" text-anchor="end" font-family="Liberation Serif, serif"  >100</text>
<line x1="754.5" y1="911.4" x2="754.5" y2="919.7" stroke="#000" stroke-width="2.8" />
<line x1="842.15" y1="911.4" x2="842.15" y2="919.7" stroke="#000" stroke-width="2.8" />
<line x1="929.8" y1="911.4" x2="929.8" y2="919.7" stroke="#000" stroke-width="2.8" />
<line x1="1017.45" y1="911.4" x2="1017.45" y2="919.7" stroke="#000" stroke-width="2.8" />
<line x1="1105.1" y1="911.4" x2="1105.1" y2="919.7" stroke="#000" stroke-width="2.8" />
<line x1="1192.75" y1="911.4" x2="1192.75" y2="919.7" stroke="#000" stroke-width="2.8" />
<text transform="translate(756.9,952.5) scale(1,1.06)" font-size="27" text-anchor="middle" font-family="Liberation Serif, serif"  >0</text>
<text transform="translate(841.1,952.5) scale(1,1.06)" font-size="27" text-anchor="middle" font-family="Liberation Serif, serif"  >10</text>
<text transform="translate(921.5,952.5) scale(1,1.06)" font-size="27" text-anchor="middle" font-family="Liberation Serif, serif"  >20</text>
<text transform="translate(1018,952.5) scale(1,1.06)" font-size="27" text-anchor="middle" font-family="Liberation Serif, serif"  >30</text>
<text transform="translate(1105.6,952.5) scale(1,1.06)" font-size="27" text-anchor="middle" font-family="Liberation Serif, serif"  >40</text>
<text transform="translate(1188,952.5) scale(1,1.06)" font-size="27" text-anchor="middle" font-family="Liberation Serif, serif"  >50</text>
<text x="885.2" y="996.2" font-size="32.3" font-family="Liberation Serif, serif" textLength="158.6" lengthAdjust="spacingAndGlyphs">Time (Days)</text>
<text transform="translate(694.7,844.9) rotate(-90)" font-size="32" font-family="Liberation Serif, serif" textLength="161" lengthAdjust="spacingAndGlyphs">Survival (%)</text>
<polyline points="754.5,620.0 1008.7,620.0 1008.7,678.3 1043.7,678.3 1043.7,736.6 1096.3,736.6 1096.3,794.9 1131.4,794.9 1131.4,853.2 1148.9,853.2" fill="none" stroke="#7b1fa2" stroke-width="1.5"/>
<polyline points="754.5,620.0 1008.7,620.0 1008.7,736.6 1035.0,736.6 1035.0,794.9 1052.5,794.9 1052.5,853.2 1113.9,853.2 1113.9,911.5" fill="none" stroke="#1a1aa6" stroke-width="1.5"/>
<polyline points="754.5,620.0 929.8,620.0 929.8,678.3 947.3,678.3 947.3,736.6 991.2,736.6 991.2,794.9 1008.7,794.9 1008.7,853.2 1026.2,853.2 1026.2,911.5" fill="none" stroke="#c6c6c6" stroke-width="1.5"/>
<polyline points="754.5,620.0 964.9,620.0 964.9,678.3 982.4,678.3 982.4,736.6 1008.7,736.6 1008.7,794.9 1017.5,794.9 1017.5,853.2 1052.5,853.2 1052.5,911.5" fill="none" stroke="#f01818" stroke-width="1.5"/>
<polyline points="754.5,620.0 938.6,620.0 938.6,678.3 964.9,678.3 964.9,736.6 1026.2,736.6 1026.2,794.9 1043.7,794.9 1043.7,853.2 1070.0,853.2 1070.0,911.5" fill="none" stroke="#1a861a" stroke-width="1.5"/>
<line x1="772.5" y1="646.3" x2="800.5" y2="646.3" stroke="#8b8b8b" stroke-width="2.4" />
<circle cx="786.7" cy="646.3" r="3.9099999999999997" fill="#8b8b8b"/>
<text x="811" y="653.5" font-size="21" text-anchor="start" fill="#000" font-family="Liberation Serif, serif" >PBS</text>
<line x1="772.5" y1="677.5" x2="800.5" y2="677.5" stroke="#158415" stroke-width="2.4" />
<path d="M786.7,673.42 L790.7800000000001,680.56 L782.62,680.56 Z" fill="#158415"/>
<text x="811" y="684.7" font-size="21" text-anchor="start" fill="#000" font-family="Liberation Serif, serif" >PD-1</text>
<line x1="772.5" y1="708" x2="800.5" y2="708" stroke="#fb0f0f" stroke-width="2.4" />
<path d="M786.7,704.175 L790.1,708 L786.7,711.825 L783.3000000000001,708 Z" fill="#fb0f0f"/>
<text x="811" y="715.2" font-size="21" text-anchor="start" fill="#000" font-family="Liberation Serif, serif" >MSN-GOx</text>
<line x1="772.5" y1="739.5" x2="800.5" y2="739.5" stroke="#0e0ebc" stroke-width="2.4" />
<path d="M786.7,743.58 L790.7800000000001,736.44 L782.62,736.44 Z" fill="#0e0ebc"/>
<text x="811" y="746.7" font-size="21" text-anchor="start" fill="#000" font-family="Liberation Serif, serif" >CMSN-GOx</text>
<line x1="772.5" y1="769.5" x2="800.5" y2="769.5" stroke="#7414a6" stroke-width="2.4" />
<rect x="783.13" y="765.93" width="7.14" height="7.14" fill="#7414a6"/>
<text x="811" y="776.7" font-size="21" font-family="Liberation Serif, serif" textLength="174.5" lengthAdjust="spacingAndGlyphs">CMSN-GOx+PD-1</text>
<text x="1136.6" y="853" font-size="27" text-anchor="start" fill="#000" font-family="Liberation Serif, serif" >**</text>
</g>
</svg></body></html>
